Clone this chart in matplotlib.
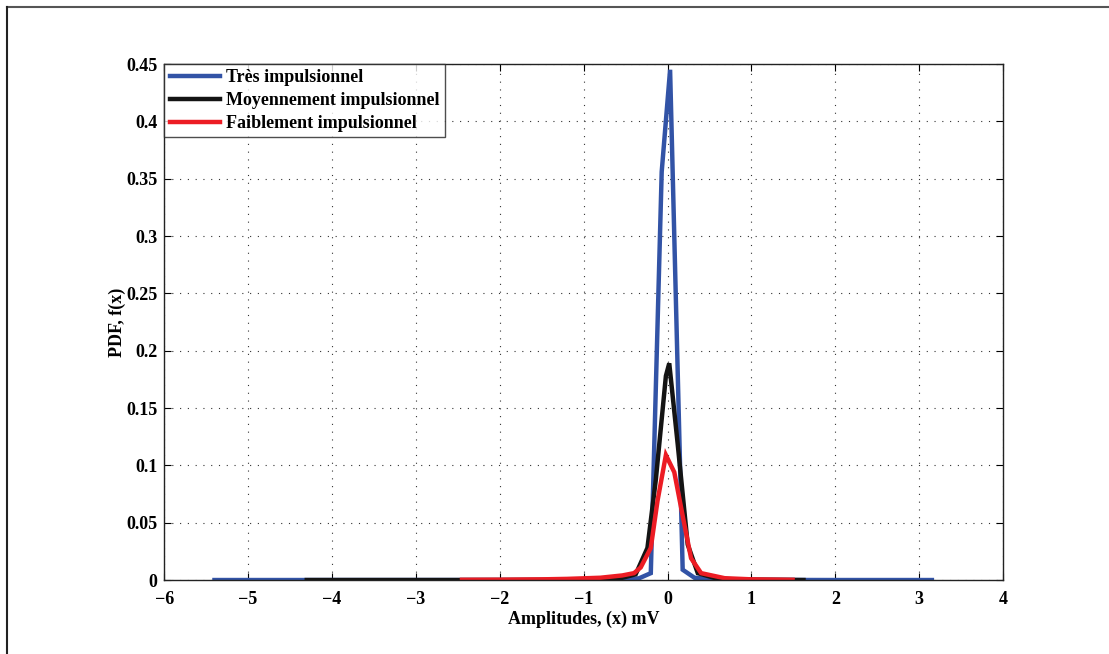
import numpy as np
import matplotlib
matplotlib.use("Agg")
import matplotlib.pyplot as plt
from matplotlib.lines import Line2D

# series (amplitude in mV, pdf value)
x_tres = [-5.4, -4.0, -2.0, -1.0, -0.5, -0.34, -0.2, -0.07, 0.03, 0.18,
          0.32, 0.6, 1.0, 2.0, 3.15]
y_tres = [0, 0, 0, 0, 0.0005, 0.0015, 0.006, 0.356, 0.445, 0.009,
          0.002, 0.0004, 0.0001, 0, 0]

x_moy = [-4.3, -3.0, -2.0, -1.0, -0.6, -0.38, -0.24, -0.14, -0.02, 0.02,
         0.12, 0.24, 0.36, 0.6, 1.0, 1.62]
y_moy = [0, 0, 0, 0.0002, 0.0008, 0.005, 0.028, 0.0875, 0.178, 0.189,
         0.119, 0.031, 0.006, 0.001, 0.0003, 0]

x_faib = [-2.45, -2.0, -1.5, -1.2, -0.8, -0.54, -0.4, -0.32, -0.2, -0.12,
          -0.02, 0.08, 0.18, 0.28, 0.4, 0.68, 1.0, 1.49]
y_faib = [0.0002, 0.0003, 0.0006, 0.001, 0.002, 0.004, 0.006, 0.011, 0.028,
          0.069, 0.109, 0.094, 0.056, 0.019, 0.006, 0.0016, 0.0006, 0.0002]

labels = ["Très impulsionnel", "Moyennement impulsionnel",
          "Faiblement impulsionnel"]
colors = ["#3253a6", "#141414", "#ec1c24"]

xticks = np.arange(-6, 5, 1)
yticks = [0, 0.05, 0.1, 0.15, 0.2, 0.25, 0.3, 0.35, 0.4, 0.45]
ytick_labels = ["0", "0.05", "0.1", "0.15", "0.2", "0.25", "0.3", "0.35",
                "0.4", "0.45"]

plt.rcParams["font.family"] = ["Liberation Serif", "DejaVu Serif"]
plt.rcParams["font.weight"] = "bold"
fs = 13

fig = plt.figure(figsize=(11.09, 6.54), dpi=100)
ax = fig.add_axes([0.148, 0.1131, 0.7566, 0.789])

for xs, ys, c, lab in zip([x_tres, x_moy, x_faib], [y_tres, y_moy, y_faib],
                          colors, labels):
    ax.plot(xs, ys, color=c, lw=3.2, label=lab, solid_joinstyle="miter")

ax.set_xlim(-6, 4)
ax.set_ylim(0, 0.45)
ax.set_xticks(xticks)
ax.set_xticklabels([str(t).replace("-", "\u2212") for t in xticks])
ax.set_yticks(yticks)
ax.set_yticklabels(ytick_labels)
ax.tick_params(axis="y", direction="in", length=5, width=0.8, left=True,
               right=True, labelsize=fs, pad=5)
ax.tick_params(axis="x", direction="in", length=5, width=0.8, bottom=True,
               top=True, labelsize=fs, pad=8)
for lbl in ax.get_xticklabels() + ax.get_yticklabels():
    lbl.set_fontweight("bold")
ax.grid(True, linestyle=(0, (1, 6)), color="#333333", lw=0.8)
for s in ax.spines.values():
    s.set_linewidth(1.0)
    s.set_color("#222222")

ax.set_xlabel("Amplitudes, (x) mV", fontsize=fs, fontweight="bold",
              labelpad=2)
ax.set_ylabel("PDF, f(x)", fontsize=fs, fontweight="bold", labelpad=0)

leg = ax.legend(loc="upper left", fontsize=fs, frameon=True, fancybox=False,
                handlelength=2.8, borderaxespad=0, borderpad=0.3,
                labelspacing=0.32, handletextpad=0.35)
leg.get_frame().set_edgecolor("#222222")
leg.get_frame().set_linewidth(1.0)
for t in leg.get_texts():
    t.set_fontweight("bold")

# outer frame lines (top and left)
fig.add_artist(Line2D([7 / 1109, 1], [1 - 7 / 654, 1 - 7 / 654],
                      transform=fig.transFigure, color="#555555", lw=1.5))
fig.add_artist(Line2D([7 / 1109, 7 / 1109], [0, 1 - 7 / 654],
                      transform=fig.transFigure, color="#222222", lw=1.5))

fig.savefig("out.png", dpi=100)
plt.close(fig)
